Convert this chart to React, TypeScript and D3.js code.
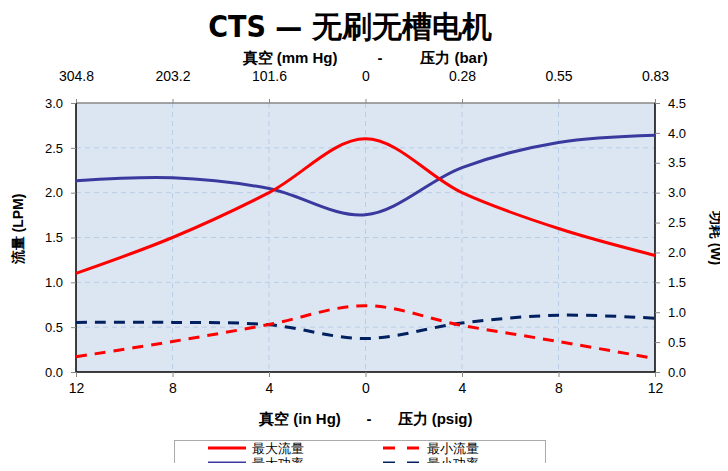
import * as d3 from 'd3';
import { useEffect, useRef } from 'react';

// x positions: vacuum on the left (negative), pressure on the right
const positions = [-12, -8, -4, 0, 4, 8, 12];
const maxFlow = [1.1, 1.5, 2.0, 2.6, 2.0, 1.6, 1.3];
const minFlow = [0.17, 0.34, 0.53, 0.74, 0.52, 0.34, 0.15];
const maxPower = [3.2, 3.25, 3.07, 2.63, 3.42, 3.84, 3.96];
const minPower = [0.83, 0.83, 0.79, 0.56, 0.82, 0.95, 0.9];

const topTickLabels = ['304.8', '203.2', '101.6', '0', '0.28', '0.55', '0.83'];
const bottomTickLabels = ['12', '8', '4', '0', '4', '8', '12'];
const leftTicks = [0, 0.5, 1, 1.5, 2, 2.5, 3];
const rightTicks = [0, 0.5, 1, 1.5, 2, 2.5, 3, 3.5, 4, 4.5];

const legendItems = [
  { label: '最大流量', color: '#ff0000', dash: false },
  { label: '最小流量', color: '#ff0000', dash: true },
  { label: '最大功率', color: '#3a3a9e', dash: false },
  { label: '最小功率', color: '#002060', dash: true },
];

const width = 728;
const height = 471;
const margin = { left: 76, right: 73, top: 103, bottom: 99 };
const font = "'Liberation Sans', Arial, sans-serif";
const narrow = "'Liberation Sans Narrow', 'DejaVu Sans Condensed', 'Liberation Sans', sans-serif";

export default function App() {
  const svgRef = useRef(null);

  useEffect(() => {
    const svg = d3.select(svgRef.current);
    svg.selectAll('*').remove();

    const x = d3.scaleLinear().domain([-12, 12]).range([margin.left, width - margin.right]);
    const yL = d3.scaleLinear().domain([0, 3]).range([height - margin.bottom, margin.top]);
    const yR = d3.scaleLinear().domain([0, 4.5]).range([height - margin.bottom, margin.top]);
    const x0 = margin.left;
    const x1 = width - margin.right;
    const yTop = margin.top;
    const yBot = height - margin.bottom;

    // plot background
    svg
      .append('rect')
      .attr('x', x0)
      .attr('y', yTop)
      .attr('width', x1 - x0)
      .attr('height', yBot - yTop)
      .style('fill', '#dce6f2');

    // grid
    const grid = svg.append('g').style('stroke', '#b9cde5').style('stroke-width', 1).style('stroke-dasharray', '5,4');
    grid
      .selectAll('line.v')
      .data(positions.slice(1, -1))
      .enter()
      .append('line')
      .attr('x1', (d) => x(d))
      .attr('x2', (d) => x(d))
      .attr('y1', yTop)
      .attr('y2', yBot);
    grid
      .selectAll('line.h')
      .data(leftTicks.slice(1, -1))
      .enter()
      .append('line')
      .attr('x1', x0)
      .attr('x2', x1)
      .attr('y1', (d) => yL(d))
      .attr('y2', (d) => yL(d));

    // frame
    svg.append('line').attr('x1', x0).attr('x2', x1).attr('y1', yTop).attr('y2', yTop).style('stroke', '#888').style('stroke-width', 1.5);
    svg.append('line').attr('x1', x0).attr('x2', x0).attr('y1', yTop).attr('y2', yBot).style('stroke', '#000').style('stroke-width', 1.5);
    svg.append('line').attr('x1', x1).attr('x2', x1).attr('y1', yTop).attr('y2', yBot).style('stroke', '#000').style('stroke-width', 1.5);
    svg.append('line').attr('x1', x0).attr('x2', x1).attr('y1', yBot).attr('y2', yBot).style('stroke', '#000').style('stroke-width', 1.5);

    // axes
    const styleAxis = (size: number) => (g: any) => {
      g.select('.domain').remove();
      g.selectAll('.tick line').style('stroke', '#888');
      g.selectAll('.tick text').style('font-family', font).style('font-size', size + 'px').style('fill', '#000');
    };

    svg
      .append('g')
      .attr('transform', `translate(${x0},0)`)
      .call(d3.axisLeft(yL).tickValues(leftTicks).tickFormat(d3.format('.1f')).tickSize(5).tickPadding(8))
      .call(styleAxis(13));

    svg
      .append('g')
      .attr('transform', `translate(${x1},0)`)
      .call(d3.axisRight(yR).tickValues(rightTicks).tickFormat(d3.format('.1f')).tickSize(5).tickPadding(8))
      .call(styleAxis(13));

    svg
      .append('g')
      .attr('transform', `translate(0,${yBot})`)
      .call(
        d3
          .axisBottom(x)
          .tickValues(positions)
          .tickFormat((_d, i) => bottomTickLabels[i])
          .tickSize(5)
          .tickPadding(6)
      )
      .call(styleAxis(14));

    svg
      .append('g')
      .attr('transform', `translate(0,${yTop})`)
      .call(
        d3
          .axisTop(x)
          .tickValues(positions)
          .tickFormat((_d, i) => topTickLabels[i])
          .tickSize(4)
          .tickPadding(18)
      )
      .call(styleAxis(14));

    // series
    const lineL = d3
      .line<number>()
      .x((_d, i) => x(positions[i]))
      .y((d) => yL(d))
      .curve(d3.curveCatmullRom.alpha(0.5));
    const lineR = d3
      .line<number>()
      .x((_d, i) => x(positions[i]))
      .y((d) => yR(d))
      .curve(d3.curveCatmullRom.alpha(0.5));

    const series = [
      { data: minPower, gen: lineR, color: '#002060', dash: '11,8' },
      { data: minFlow, gen: lineL, color: '#ff0000', dash: '11,8' },
      { data: maxPower, gen: lineR, color: '#3a3a9e', dash: null },
      { data: maxFlow, gen: lineL, color: '#ff0000', dash: null },
    ];
    series.forEach((s) => {
      svg
        .append('path')
        .datum(s.data)
        .attr('d', s.gen as any)
        .style('fill', 'none')
        .style('stroke', s.color)
        .style('stroke-width', 3)
        .style('stroke-dasharray', s.dash);
    });

    // title
    svg
      .append('text')
      .attr('x', 350)
      .attr('y', 37)
      .attr('text-anchor', 'middle')
      .style('font-family', narrow)
      .style('font-weight', 'bold')
      .style('font-size', '30px')
      .text('CTS — 无刷无槽电机');

    const boldLabel = (tx: number, ty: number, t: string) =>
      svg
        .append('text')
        .attr('x', tx)
        .attr('y', ty)
        .attr('text-anchor', 'middle')
        .style('font-family', font)
        .style('font-weight', 'bold')
        .style('font-size', '15px')
        .text(t);

    boldLabel(290, 63, '真空 (mm Hg)');
    boldLabel(380, 63, '-');
    boldLabel(454, 63, '压力 (bar)');
    boldLabel(300, 424, '真空 (in Hg)');
    boldLabel(369, 424, '-');
    boldLabel(435, 424, '压力 (psig)');

    svg
      .append('text')
      .attr('transform', `translate(23,229) rotate(-90)`)
      .attr('text-anchor', 'middle')
      .style('font-family', font)
      .style('font-weight', 'bold')
      .style('font-size', '14px')
      .text('流量 (LPM)');
    svg
      .append('text')
      .attr('transform', `translate(711,238) rotate(90)`)
      .attr('text-anchor', 'middle')
      .style('font-family', font)
      .style('font-weight', 'bold')
      .style('font-size', '14px')
      .text('功耗 (W)');

    // legend
    const lg = svg.append('g');
    lg.append('rect')
      .attr('x', 174.5)
      .attr('y', 440.5)
      .attr('width', 371)
      .attr('height', 40)
      .style('fill', '#fff')
      .style('stroke', '#aaa');
    legendItems.forEach((item, i) => {
      const col = i % 2;
      const row = Math.floor(i / 2);
      const lx = 208 + col * 175;
      const ly = 448 + row * 15;
      lg.append('line')
        .attr('x1', lx)
        .attr('x2', lx + 38)
        .attr('y1', ly)
        .attr('y2', ly)
        .style('stroke', item.color)
        .style('stroke-width', 3)
        .style('stroke-dasharray', item.dash ? '12,12' : null);
      lg.append('text')
        .attr('x', lx + 44)
        .attr('y', ly)
        .attr('dominant-baseline', 'central')
        .style('font-family', font)
        .style('font-size', '13px')
        .text(item.label);
    });
  }, []);

  return (
    <div style={{ margin: -8 }}>
      <svg ref={svgRef} width={width} height={height} style={{ display: 'block', background: '#fff' }}></svg>
    </div>
  );
}
